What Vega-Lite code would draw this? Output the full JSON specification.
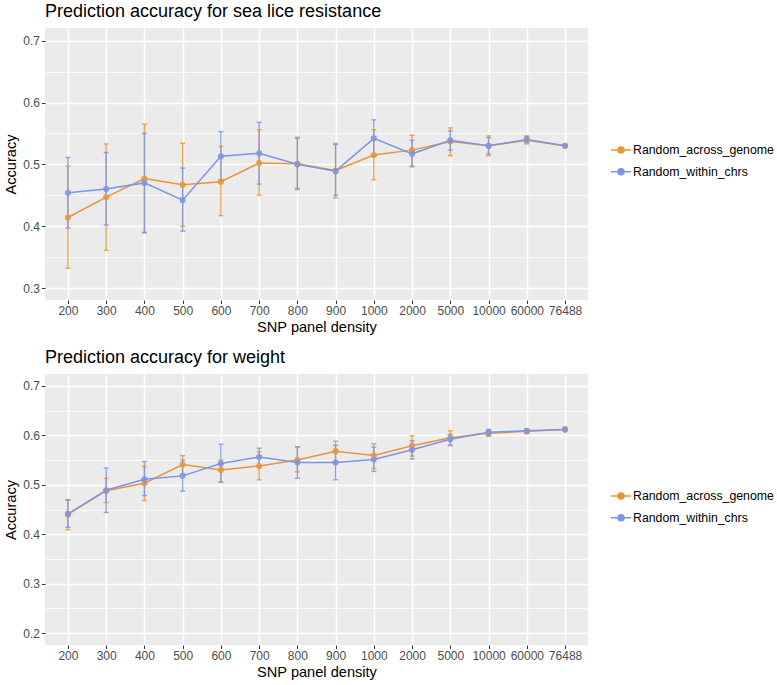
{
  "$schema": "https://vega.github.io/schema/vega-lite/v6.json",
  "background": "white",
  "padding": {"left": 3, "top": 3, "right": 0, "bottom": 0},
  "datasets": {
    "acc": [
      {"panel": "lice", "method": "Random_across_genome", "density": "200", "acc": 0.414, "lo": 0.332, "hi": 0.497},
      {"panel": "lice", "method": "Random_across_genome", "density": "300", "acc": 0.447, "lo": 0.361, "hi": 0.533},
      {"panel": "lice", "method": "Random_across_genome", "density": "400", "acc": 0.477, "lo": 0.389, "hi": 0.565},
      {"panel": "lice", "method": "Random_across_genome", "density": "500", "acc": 0.467, "lo": 0.400, "hi": 0.534},
      {"panel": "lice", "method": "Random_across_genome", "density": "600", "acc": 0.472, "lo": 0.417, "hi": 0.529},
      {"panel": "lice", "method": "Random_across_genome", "density": "700", "acc": 0.502, "lo": 0.450, "hi": 0.556},
      {"panel": "lice", "method": "Random_across_genome", "density": "800", "acc": 0.501, "lo": 0.459, "hi": 0.544},
      {"panel": "lice", "method": "Random_across_genome", "density": "900", "acc": 0.490, "lo": 0.446, "hi": 0.534},
      {"panel": "lice", "method": "Random_across_genome", "density": "1000", "acc": 0.515, "lo": 0.475, "hi": 0.556},
      {"panel": "lice", "method": "Random_across_genome", "density": "2000", "acc": 0.523, "lo": 0.497, "hi": 0.547},
      {"panel": "lice", "method": "Random_across_genome", "density": "5000", "acc": 0.537, "lo": 0.514, "hi": 0.559},
      {"panel": "lice", "method": "Random_across_genome", "density": "10000", "acc": 0.530, "lo": 0.514, "hi": 0.546},
      {"panel": "lice", "method": "Random_across_genome", "density": "60000", "acc": 0.539, "lo": 0.533, "hi": 0.546},
      {"panel": "lice", "method": "Random_across_genome", "density": "76488", "acc": 0.530, "lo": 0.530, "hi": 0.530},
      {"panel": "lice", "method": "Random_within_chrs", "density": "200", "acc": 0.454, "lo": 0.397, "hi": 0.511},
      {"panel": "lice", "method": "Random_within_chrs", "density": "300", "acc": 0.460, "lo": 0.402, "hi": 0.519},
      {"panel": "lice", "method": "Random_within_chrs", "density": "400", "acc": 0.470, "lo": 0.390, "hi": 0.550},
      {"panel": "lice", "method": "Random_within_chrs", "density": "500", "acc": 0.442, "lo": 0.392, "hi": 0.494},
      {"panel": "lice", "method": "Random_within_chrs", "density": "600", "acc": 0.513, "lo": 0.475, "hi": 0.553},
      {"panel": "lice", "method": "Random_within_chrs", "density": "700", "acc": 0.518, "lo": 0.468, "hi": 0.568},
      {"panel": "lice", "method": "Random_within_chrs", "density": "800", "acc": 0.500, "lo": 0.461, "hi": 0.542},
      {"panel": "lice", "method": "Random_within_chrs", "density": "900", "acc": 0.489, "lo": 0.450, "hi": 0.532},
      {"panel": "lice", "method": "Random_within_chrs", "density": "1000", "acc": 0.542, "lo": 0.513, "hi": 0.572},
      {"panel": "lice", "method": "Random_within_chrs", "density": "2000", "acc": 0.517, "lo": 0.496, "hi": 0.539},
      {"panel": "lice", "method": "Random_within_chrs", "density": "5000", "acc": 0.539, "lo": 0.523, "hi": 0.554},
      {"panel": "lice", "method": "Random_within_chrs", "density": "10000", "acc": 0.530, "lo": 0.517, "hi": 0.543},
      {"panel": "lice", "method": "Random_within_chrs", "density": "60000", "acc": 0.540, "lo": 0.535, "hi": 0.545},
      {"panel": "lice", "method": "Random_within_chrs", "density": "76488", "acc": 0.530, "lo": 0.530, "hi": 0.530},
      {"panel": "weight", "method": "Random_across_genome", "density": "200", "acc": 0.440, "lo": 0.409, "hi": 0.470},
      {"panel": "weight", "method": "Random_across_genome", "density": "300", "acc": 0.488, "lo": 0.464, "hi": 0.513},
      {"panel": "weight", "method": "Random_across_genome", "density": "400", "acc": 0.503, "lo": 0.468, "hi": 0.537},
      {"panel": "weight", "method": "Random_across_genome", "density": "500", "acc": 0.541, "lo": 0.522, "hi": 0.559},
      {"panel": "weight", "method": "Random_across_genome", "density": "600", "acc": 0.530, "lo": 0.505, "hi": 0.550},
      {"panel": "weight", "method": "Random_across_genome", "density": "700", "acc": 0.538, "lo": 0.510, "hi": 0.567},
      {"panel": "weight", "method": "Random_across_genome", "density": "800", "acc": 0.550, "lo": 0.526, "hi": 0.576},
      {"panel": "weight", "method": "Random_across_genome", "density": "900", "acc": 0.568, "lo": 0.548, "hi": 0.588},
      {"panel": "weight", "method": "Random_across_genome", "density": "1000", "acc": 0.559, "lo": 0.533, "hi": 0.583},
      {"panel": "weight", "method": "Random_across_genome", "density": "2000", "acc": 0.579, "lo": 0.558, "hi": 0.599},
      {"panel": "weight", "method": "Random_across_genome", "density": "5000", "acc": 0.595, "lo": 0.579, "hi": 0.609},
      {"panel": "weight", "method": "Random_across_genome", "density": "10000", "acc": 0.604, "lo": 0.598, "hi": 0.610},
      {"panel": "weight", "method": "Random_across_genome", "density": "60000", "acc": 0.608, "lo": 0.604, "hi": 0.612},
      {"panel": "weight", "method": "Random_across_genome", "density": "76488", "acc": 0.612, "lo": 0.612, "hi": 0.612},
      {"panel": "weight", "method": "Random_within_chrs", "density": "200", "acc": 0.441, "lo": 0.414, "hi": 0.469},
      {"panel": "weight", "method": "Random_within_chrs", "density": "300", "acc": 0.489, "lo": 0.444, "hi": 0.534},
      {"panel": "weight", "method": "Random_within_chrs", "density": "400", "acc": 0.511, "lo": 0.478, "hi": 0.547},
      {"panel": "weight", "method": "Random_within_chrs", "density": "500", "acc": 0.518, "lo": 0.487, "hi": 0.550},
      {"panel": "weight", "method": "Random_within_chrs", "density": "600", "acc": 0.543, "lo": 0.505, "hi": 0.582},
      {"panel": "weight", "method": "Random_within_chrs", "density": "700", "acc": 0.556, "lo": 0.538, "hi": 0.574},
      {"panel": "weight", "method": "Random_within_chrs", "density": "800", "acc": 0.545, "lo": 0.513, "hi": 0.577},
      {"panel": "weight", "method": "Random_within_chrs", "density": "900", "acc": 0.545, "lo": 0.510, "hi": 0.580},
      {"panel": "weight", "method": "Random_within_chrs", "density": "1000", "acc": 0.551, "lo": 0.527, "hi": 0.576},
      {"panel": "weight", "method": "Random_within_chrs", "density": "2000", "acc": 0.571, "lo": 0.552, "hi": 0.589},
      {"panel": "weight", "method": "Random_within_chrs", "density": "5000", "acc": 0.592, "lo": 0.580, "hi": 0.602},
      {"panel": "weight", "method": "Random_within_chrs", "density": "10000", "acc": 0.606, "lo": 0.599, "hi": 0.612},
      {"panel": "weight", "method": "Random_within_chrs", "density": "60000", "acc": 0.609, "lo": 0.605, "hi": 0.612},
      {"panel": "weight", "method": "Random_within_chrs", "density": "76488", "acc": 0.612, "lo": 0.612, "hi": 0.612}
    ]
  },
  "config": {
    "font": "Liberation Sans",
    "view": {"fill": "#EBEBEB", "stroke": null},
    "axis": {
      "domain": false,
      "gridColor": "#FFFFFF",
      "tickColor": "#333333",
      "labelColor": "#4D4D4D",
      "labelFontSize": 12,
      "titleFontSize": 14.6,
      "titleFontWeight": "normal",
      "titleColor": "#000000",
      "tickSize": 3.5,
      "tickWidth": 1,
      "labelPadding": 2
    },
    "title": {"fontSize": 18, "fontWeight": "normal", "anchor": "start", "frame": "group", "color": "#000000", "offset": 7},
    "legend": {
      "title": null,
      "orient": "none",
      "legendX": 565,
      "legendY": 111,
      "symbolType": "M-1,0L-0.3,0A0.3,0.3,0,1,1,0.3,0A0.3,0.3,0,1,1,-0.3,0M0.3,0L1,0",
      "symbolSize": 400,
      "symbolStrokeWidth": 1.5,
      "labelFontSize": 12.3,
      "labelColor": "#000000",
      "labelOffset": 1,
      "rowPadding": 3.7
    }
  },
  "spacing": 14,
  "resolve": {"scale": {"color": "independent"}, "legend": {"color": "independent"}},
  "vconcat": [
    {
      "title": {"text": "Prediction accuracy for sea lice resistance"},
      "width": 543,
      "height": 272,
      "data": {"name": "acc"},
      "transform": [{"filter": "datum.panel === 'lice'"}],
      "encoding": {
        "x": {"field": "density", "type": "ordinal", "sort": ["200","300","400","500","600","700","800","900","1000","2000","5000","10000","60000","76488"], "scale": {"type": "point", "padding": 0.6}, "axis": {"title": "SNP panel density", "labelAngle": 0, "grid": true, "gridWidth": 1.6, "titlePadding": 3, "labelOverlap": false}},
        "color": {"field": "method", "type": "nominal", "scale": {"domain": ["Random_across_genome", "Random_within_chrs"], "range": ["#E8953A", "#7B95E6"]},
          "legend": {"encode": {"symbols": {"update": {"fill": {"signal": "datum.value === 'Random_across_genome' ? '#E8953A' : '#7B95E6'"}, "stroke": {"signal": "datum.value === 'Random_across_genome' ? '#E8953A' : '#7B95E6'"}, "opacity": {"value": 1}}}}}}
      },
      "layer": [
        {"mark": {"type": "rule", "strokeWidth": 1.4, "opacity": 0.85},
         "encoding": {"y": {"field": "lo", "type": "quantitative", "scale": {"domain": [0.2806, 0.7205], "zero": false, "nice": false}, "axis": {"title": "Accuracy", "values": [0.3,0.35,0.4,0.45,0.5,0.55,0.6,0.65,0.7], "labelExpr": "round(datum.value*20)%2==1 ? '' : format(datum.value, '.1f')", "gridWidth": {"condition": {"test": "round(datum.value*20)%2==1", "value": 0.8}, "value": 1.6}, "tickSize": {"condition": {"test": "round(datum.value*20)%2==1", "value": 0}, "value": 3.5}}}, "y2": {"field": "hi"}}},
        {"mark": {"type": "tick", "size": 5, "thickness": 1.4, "opacity": 0.85},
         "encoding": {"y": {"field": "lo", "type": "quantitative", "scale": {"domain": [0.2806, 0.7205], "zero": false, "nice": false}, "axis": {"title": "Accuracy", "values": [0.3,0.35,0.4,0.45,0.5,0.55,0.6,0.65,0.7], "labelExpr": "round(datum.value*20)%2==1 ? '' : format(datum.value, '.1f')", "gridWidth": {"condition": {"test": "round(datum.value*20)%2==1", "value": 0.8}, "value": 1.6}, "tickSize": {"condition": {"test": "round(datum.value*20)%2==1", "value": 0}, "value": 3.5}}}}},
        {"mark": {"type": "tick", "size": 5, "thickness": 1.4, "opacity": 0.85},
         "encoding": {"y": {"field": "hi", "type": "quantitative", "scale": {"domain": [0.2806, 0.7205], "zero": false, "nice": false}, "axis": {"title": "Accuracy", "values": [0.3,0.35,0.4,0.45,0.5,0.55,0.6,0.65,0.7], "labelExpr": "round(datum.value*20)%2==1 ? '' : format(datum.value, '.1f')", "gridWidth": {"condition": {"test": "round(datum.value*20)%2==1", "value": 0.8}, "value": 1.6}, "tickSize": {"condition": {"test": "round(datum.value*20)%2==1", "value": 0}, "value": 3.5}}}}},
        {"mark": {"type": "line", "strokeWidth": 1.5},
         "encoding": {"order": {"value": null}, "y": {"field": "acc", "type": "quantitative", "scale": {"domain": [0.2806, 0.7205], "zero": false, "nice": false}, "axis": {"title": "Accuracy", "values": [0.3,0.35,0.4,0.45,0.5,0.55,0.6,0.65,0.7], "labelExpr": "round(datum.value*20)%2==1 ? '' : format(datum.value, '.1f')", "gridWidth": {"condition": {"test": "round(datum.value*20)%2==1", "value": 0.8}, "value": 1.6}, "tickSize": {"condition": {"test": "round(datum.value*20)%2==1", "value": 0}, "value": 3.5}}}}},
        {"mark": {"type": "point", "filled": true, "size": 38, "opacity": 0.85},
         "encoding": {"y": {"field": "acc", "type": "quantitative", "scale": {"domain": [0.2806, 0.7205], "zero": false, "nice": false}, "axis": {"title": "Accuracy", "values": [0.3,0.35,0.4,0.45,0.5,0.55,0.6,0.65,0.7], "labelExpr": "round(datum.value*20)%2==1 ? '' : format(datum.value, '.1f')", "gridWidth": {"condition": {"test": "round(datum.value*20)%2==1", "value": 0.8}, "value": 1.6}, "tickSize": {"condition": {"test": "round(datum.value*20)%2==1", "value": 0}, "value": 3.5}}}}}
      ]
    },
    {
      "title": {"text": "Prediction accuracy for weight"},
      "width": 543,
      "height": 271,
      "data": {"name": "acc"},
      "transform": [{"filter": "datum.panel === 'weight'"}],
      "encoding": {
        "x": {"field": "density", "type": "ordinal", "sort": ["200","300","400","500","600","700","800","900","1000","2000","5000","10000","60000","76488"], "scale": {"type": "point", "padding": 0.6}, "axis": {"title": "SNP panel density", "labelAngle": 0, "grid": true, "gridWidth": 1.6, "titlePadding": 3, "labelOverlap": false}},
        "color": {"field": "method", "type": "nominal", "scale": {"domain": ["Random_across_genome", "Random_within_chrs"], "range": ["#E8953A", "#7B95E6"]},
          "legend": {"encode": {"symbols": {"update": {"fill": {"signal": "datum.value === 'Random_across_genome' ? '#E8953A' : '#7B95E6'"}, "stroke": {"signal": "datum.value === 'Random_across_genome' ? '#E8953A' : '#7B95E6'"}, "opacity": {"value": 1}}}}}}
      },
      "layer": [
        {"mark": {"type": "rule", "strokeWidth": 1.4, "opacity": 0.85},
         "encoding": {"y": {"field": "lo", "type": "quantitative", "scale": {"domain": [0.176, 0.724], "zero": false, "nice": false}, "axis": {"title": "Accuracy", "values": [0.2,0.25,0.3,0.35,0.4,0.45,0.5,0.55,0.6,0.65,0.7], "labelExpr": "round(datum.value*20)%2==1 ? '' : format(datum.value, '.1f')", "gridWidth": {"condition": {"test": "round(datum.value*20)%2==1", "value": 0.8}, "value": 1.6}, "tickSize": {"condition": {"test": "round(datum.value*20)%2==1", "value": 0}, "value": 3.5}}}, "y2": {"field": "hi"}}},
        {"mark": {"type": "tick", "size": 5, "thickness": 1.4, "opacity": 0.85},
         "encoding": {"y": {"field": "lo", "type": "quantitative", "scale": {"domain": [0.176, 0.724], "zero": false, "nice": false}, "axis": {"title": "Accuracy", "values": [0.2,0.25,0.3,0.35,0.4,0.45,0.5,0.55,0.6,0.65,0.7], "labelExpr": "round(datum.value*20)%2==1 ? '' : format(datum.value, '.1f')", "gridWidth": {"condition": {"test": "round(datum.value*20)%2==1", "value": 0.8}, "value": 1.6}, "tickSize": {"condition": {"test": "round(datum.value*20)%2==1", "value": 0}, "value": 3.5}}}}},
        {"mark": {"type": "tick", "size": 5, "thickness": 1.4, "opacity": 0.85},
         "encoding": {"y": {"field": "hi", "type": "quantitative", "scale": {"domain": [0.176, 0.724], "zero": false, "nice": false}, "axis": {"title": "Accuracy", "values": [0.2,0.25,0.3,0.35,0.4,0.45,0.5,0.55,0.6,0.65,0.7], "labelExpr": "round(datum.value*20)%2==1 ? '' : format(datum.value, '.1f')", "gridWidth": {"condition": {"test": "round(datum.value*20)%2==1", "value": 0.8}, "value": 1.6}, "tickSize": {"condition": {"test": "round(datum.value*20)%2==1", "value": 0}, "value": 3.5}}}}},
        {"mark": {"type": "line", "strokeWidth": 1.5},
         "encoding": {"order": {"value": null}, "y": {"field": "acc", "type": "quantitative", "scale": {"domain": [0.176, 0.724], "zero": false, "nice": false}, "axis": {"title": "Accuracy", "values": [0.2,0.25,0.3,0.35,0.4,0.45,0.5,0.55,0.6,0.65,0.7], "labelExpr": "round(datum.value*20)%2==1 ? '' : format(datum.value, '.1f')", "gridWidth": {"condition": {"test": "round(datum.value*20)%2==1", "value": 0.8}, "value": 1.6}, "tickSize": {"condition": {"test": "round(datum.value*20)%2==1", "value": 0}, "value": 3.5}}}}},
        {"mark": {"type": "point", "filled": true, "size": 38, "opacity": 0.85},
         "encoding": {"y": {"field": "acc", "type": "quantitative", "scale": {"domain": [0.176, 0.724], "zero": false, "nice": false}, "axis": {"title": "Accuracy", "values": [0.2,0.25,0.3,0.35,0.4,0.45,0.5,0.55,0.6,0.65,0.7], "labelExpr": "round(datum.value*20)%2==1 ? '' : format(datum.value, '.1f')", "gridWidth": {"condition": {"test": "round(datum.value*20)%2==1", "value": 0.8}, "value": 1.6}, "tickSize": {"condition": {"test": "round(datum.value*20)%2==1", "value": 0}, "value": 3.5}}}}}
      ]
    }
  ]
}
